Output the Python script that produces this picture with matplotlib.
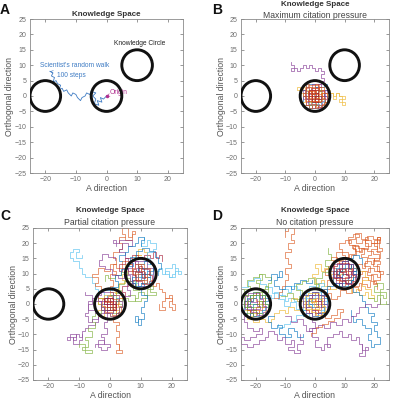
import numpy as np
import matplotlib.pyplot as plt
from matplotlib.patches import Circle

plt.rcParams['font.family'] = ['Liberation Sans', 'DejaVu Sans']

# MATLAB default colour order
BLUE, ORANGE, YELLOW, PURPLE = '#0072BD', '#D95319', '#EDB120', '#7E2F8E'
GREEN, CYAN, DARKRED = '#77AC30', '#4DBEEE', '#A2142F'
GRAY = '#6e6e6e'

# knowledge circles
circle_x = [-20, 0, 10]
circle_y = [0, 0, 10]
circle_r = 5

x_ticks = [-20, -10, 0, 10, 20]
y_ticks = [-25, -20, -15, -10, -5, 0, 5, 10, 15, 20, 25]

# ---- panel A: one scientist's walk
a_walk = [(0, 0), (-1, -1), (-2, -0.5), (-1.5, -2), (-3, -1.5), (-2.5, -3), (-4, -2.5),
          (-3.5, -1), (-4.5, 0), (-3.5, 1), (-5, 1.5), (-5.5, 0.5), (-6.5, 1), (-7, 0),
          (-8, -0.5), (-8.5, -1.5), (-9.5, -0.5), (-10, 0.5), (-11, 1), (-11.5, 0),
          (-12.5, 1), (-13, 2), (-14, 1.5), (-14.5, 2.5), (-15.5, 2), (-15, 3.5), (-16, 4),
          (-16.5, 5), (-17.5, 4.5), (-17, 6), (-18, 6.5), (-17.5, 7.5), (-18.5, 8)]

# ---- panel B: maximum citation pressure
b_walk_purple = [(1, 1), (0, 3), (1, 4), (2, 5), (3, 6), (2, 7), (3, 8), (2, 9), (1, 8), (0, 9),
                 (-1, 10), (-2, 9), (-3, 10), (-4, 9), (-5, 8), (-6, 9), (-7, 8), (-8, 9),
                 (-7, 10), (-8, 11)]
b_walk_yellow = [(2, 0), (3, 1), (4, 0), (5, 1), (6, 0), (7, 1), (8, 0), (9, -1), (8, -2),
                 (9, -3), (10, -2), (9, -1), (10, 0), (8, 1), (7, -1), (6, 1), (5, 2)]
b_walk_orange = [(-2, 2), (-3, 3), (-4, 2), (-5, 3), (-6, 2), (-5, 1), (-4, 0)]
b_blob_orange = [(0, 0), (1, 1), (0, 2), (-1, 1), (-2, 2), (-1, 0), (-2, -1), (-1, -2), (0, -1),
                 (1, -2), (2, -1), (3, 0), (2, 1), (3, 2), (2, 3), (1, 2), (0, 3), (-1, 3),
                 (-2, 4), (-3, 3), (-3, 1), (-4, 0), (-3, -1), (-3, -3), (-2, -4), (-1, -3),
                 (0, -4), (1, -3), (2, -3), (3, -2), (4, -1), (4, 1), (3, 3), (1, 4), (0, 2),
                 (-1, 0), (0, -2), (1, 0), (0, 0)]
b_blob_orange2 = [(0.5, 0.5), (-1.5, 1.5), (-2.5, -0.5), (-1.5, -2.5), (0.5, -3.5), (2.5, -2.5),
                  (3.5, -0.5), (2.5, 1.5), (1.5, 3.5), (-0.5, 3.5), (-2.5, 2.5), (-3.5, 0.5),
                  (-3.5, -1.5), (-0.5, -1.5), (1.5, -0.5), (0.5, 1.5), (-1.5, 0.5), (-0.5, -0.5)]
b_blob_purple = [(0, 0), (-1, -1), (-2, 0), (-3, -1), (-2, -2), (-3, -3), (-1, -4), (0, -3),
                 (1, -4), (2, -2), (1, -1), (2, 0), (3, -1), (4, 0), (3, 1), (4, 2), (2, 2),
                 (1, 3), (2, 4), (0, 4), (-1, 2), (-2, 3), (-3, 2), (-4, 1), (-3, 0), (-4, -1),
                 (-2, 1), (-1, 2), (0, 1), (1, 0), (0, -1)]
b_blob_purple2 = [(-0.5, 0.5), (-2.5, 1.5), (-3.5, -0.5), (-2.5, -2.5), (-0.5, -2.5), (1.5, -3.5),
                  (2.5, -1.5), (3.5, 1.5), (1.5, 2.5), (-0.5, 2.5), (-1.5, 0.5), (0.5, -0.5)]
b_blob_blue = [(0, 0), (-1, 1), (-3, 2), (-4, 2), (-3, 4), (-1, 4), (0, 3), (2, 3), (3, 4),
               (4, 2), (3, 0), (4, -2), (3, -3), (1, -4), (-1, -4), (-2, -3), (-4, -2), (-4, 0),
               (-2, -1), (-1, -2), (1, -2), (2, -1), (1, 1), (0, 0)]
b_blob_yellow = [(0, 0), (-2, -1), (-3, -2), (-4, -3), (-2, -3), (-1, -4), (0, -3), (2, -4),
                 (3, -3), (4, -2), (3, -1), (1, -1), (2, 1), (4, 1), (3, 2), (1, 2), (0, 1),
                 (-1, 3), (-3, 3), (-2, 1), (-3, 0), (-1, 0)]
b_blob_red = [(0, 0), (1, 0), (1, 1), (0, 1), (-1, 1), (-1, 0), (-1, -1), (0, -1), (1, -1),
              (2, -1), (2, 0), (1, 2), (0, 2), (-1, 2), (-2, 1), (-2, 0), (-1, -2), (0, -2),
              (1, -2), (0, -1), (0, 0)]
b_blob_red2 = [(0.5, -0.5), (1.5, 0.5), (0.5, 1.5), (-0.5, 0.5), (-1.5, -0.5), (-0.5, -1.5),
               (1.5, -1.5), (2.5, 0.5), (1.5, 2.5), (-1.5, 1.5), (-2.5, -1.5), (0.5, -2.5)]
b_blob_green = [(0, 0), (1, -1), (2, -2), (1, -3), (0, -2), (-1, -3), (-2, -2), (-1, -1),
                (0, 0), (1, 2), (2, 1)]
b_blob_cyan = [(0, 0), (2, -1), (3, -2), (2, -3), (1, -2), (0, -3), (-1, -2), (0, -1)]

# ---- panel C: partial citation pressure
c_blob0_red = [(0, 0), (1, 1), (0, 2), (-1, 1), (-2, 0), (-1, -1), (0, -2), (1, -1), (2, 0),
               (1, 2), (-1, 2), (-2, 1), (-1, 0), (0, -1), (1, 0), (0, 1), (-1, -2), (1, -2),
               (2, 1), (0, 0)]
c_blob0_purple = [(0, 0), (-2, 1), (-3, -1), (-2, -3), (0, -4), (2, -3), (3, -1), (4, 1),
                  (3, 3), (1, 4), (-1, 4), (-3, 3), (-4, 1), (-3, -2), (-1, -3), (1, -2),
                  (2, 0), (1, 2), (-1, 2), (-2, 0), (-1, -1)]
c_blob0_orange = [(0, 0), (1, -1), (3, -2), (2, -4), (0, -3), (-2, -4), (-4, -2), (-3, 0),
                  (-4, 2), (-2, 3), (0, 4), (2, 3), (4, 2), (3, 0), (2, -2), (0, -1), (-2, 1),
                  (0, 2), (1, 0)]
c_blob0_yellow = [(0.5, 0.5), (-1.5, 1.5), (-2.5, -0.5), (-1.5, -2.5), (0.5, -3.5), (2.5, -2.5),
                  (3.5, -0.5), (2.5, 1.5), (0.5, 2.5), (-0.5, 0.5), (0.5, -1.5), (1.5, 0.5)]
c_blob0_green = [(0, 0), (-1, 2), (-3, 2), (-4, 0), (-3, -2), (-1, -1), (1, -3), (3, -3),
                 (3, -1), (4, 0), (2, 1), (2, 3), (0, 3)]
c_blob0_blue = [(0, 0), (2, 2), (3, 1), (2, -1), (0, -2), (-2, -2), (-3, 0), (-2, 2), (-1, 3),
                (1, 2), (0, 1)]
c_blob1_blue = [(10, 10), (12, 11), (13, 9), (12, 7), (10, 6), (8, 7), (7, 9), (8, 11), (9, 13),
                (11, 14), (13, 13), (14, 11), (13, 10), (11, 9), (9, 10), (10, 12), (12, 12),
                (11, 8), (9, 8), (10, 10)]
c_blob1_red = [(10, 10), (9, 11), (8, 10), (9, 8), (11, 7), (12, 9), (11, 11), (10, 13), (8, 12),
               (7, 10), (8, 8), (10, 8), (12, 10), (13, 12), (11, 13), (9, 12), (10, 11)]
c_blob1_red2 = [(10.5, 10.5), (8.5, 11.5), (7.5, 9.5), (8.5, 7.5), (10.5, 6.5), (12.5, 7.5),
                (13.5, 9.5), (12.5, 11.5), (10.5, 12.5), (9.5, 10.5), (10.5, 8.5), (11.5, 10.5)]
c_blob1_purple = [(10, 10), (11, 12), (9, 14), (7, 12), (6, 10), (7, 8), (9, 6), (11, 6), (13, 7),
                  (14, 9), (14, 12), (12, 14), (10, 14), (8, 13), (9, 11), (11, 10)]
c_blob1_cyan = [(10, 10), (12, 9), (13, 7), (11, 6), (9, 7), (8, 9), (9, 12), (11, 12), (12, 11)]
c_walk_orange_up = [(0, 2), (1, 4), (0, 6), (1, 8), (0, 10), (2, 11), (1, 13), (2, 15), (1, 17),
                    (3, 18), (4, 20), (3, 22), (5, 23), (4, 25), (6, 22), (7, 24), (8, 23),
                    (7, 21), (5, 22)]
c_walk_red_e = [(11, 9), (13, 8), (14, 6), (15, 7), (16, 5), (17, 4), (18, 2), (19, 3), (20, 1),
                (19, -1), (20, -2), (21, 0), (20, 2), (18, 1), (17, -1), (18, -2), (16, 0)]
c_walk_cyan_e = [(12, 10), (14, 12), (15, 11), (16, 12), (17, 10), (18, 11), (19, 9), (20, 10),
                 (21, 11), (22, 10), (23, 11), (22, 12), (21, 9), (19, 10), (18, 12), (20, 13),
                 (21, 12)]
c_walk_purple_sw = [(-1, -1), (-2, -3), (-3, -4), (-4, -6), (-5, -7), (-7, -8), (-8, -9),
                    (-9, -11), (-10, -10), (-11, -12), (-12, -11), (-13, -12), (-14, -11),
                    (-13, -10), (-11, -11), (-12, -13), (-10, -12), (-9, -10)]
c_walk_purple_s = [(0, -2), (-1, -4), (-1, -6), (-2, -8), (-1, -10), (-3, -11), (-2, -13),
                   (-4, -14), (-3, -15), (-1, -14), (0, -13), (-2, -12), (-4, -13), (-5, -14)]
c_walk_green_sw = [(-2, -1), (-3, -3), (-5, -4), (-6, -6), (-5, -8), (-7, -9), (-6, -11),
                   (-8, -12), (-7, -14), (-9, -15), (-8, -16), (-6, -15), (-8, -13), (-10, -14)]
c_walk_red_s = [(1, -2), (2, -4), (1, -6), (3, -7), (2, -9), (3, -11), (2, -13), (3, -15),
                (2, -16), (4, -15), (3, -13)]
c_walk_cyan_nw = [(-1, 2), (-2, 4), (-4, 5), (-5, 7), (-6, 9), (-8, 10), (-9, 12), (-10, 14),
                  (-12, 15), (-13, 17), (-12, 18), (-10, 17), (-11, 15), (-9, 16)]
c_walk_purple_n = [(9, 12), (8, 14), (6, 15), (5, 17), (3, 18), (4, 20), (6, 19), (7, 21),
                   (5, 21), (3, 20), (1, 21), (2, 19)]
c_walk_green_e = [(2, 1), (4, 2), (6, 1), (8, 2), (9, 4), (11, 3), (12, 5), (14, 6), (13, 4),
                  (15, 3), (12, 2), (10, 1), (8, 3), (6, 3)]
c_walk_blue_se = [(10, 7), (11, 5), (10, 3), (12, 1), (11, -1), (10, -3), (11, -5), (9, -6),
                  (8, -4), (9, -7), (10, -5)]
c_walk_yellow_mid = [(0, 3), (2, 5), (3, 7), (5, 8), (4, 10), (6, 11), (5, 13), (7, 14), (8, 16),
                     (10, 16), (9, 18), (11, 17), (12, 15)]
c_walk_orange_mid = [(-2, 2), (-4, 4), (-3, 6), (-5, 7), (-4, 9), (-6, 10), (-4, 12), (-2, 11),
                     (0, 13), (2, 12), (4, 14), (6, 13), (7, 11)]
c_walk_red_mid = [(3, 2), (5, 4), (4, 6), (6, 7), (8, 6), (7, 8), (9, 9), (8, 11), (6, 12),
                  (4, 11), (3, 13), (5, 15), (7, 16), (9, 15), (11, 16), (13, 15), (14, 17),
                  (15, 15), (16, 16), (17, 14)]
c_walk_purple_w = [(-3, 1), (-5, 2), (-6, 0), (-7, -2), (-5, -3), (-4, -5), (-6, -6), (-7, -4),
                   (-8, -3), (-7, 1), (-6, 3), (-8, 4)]
c_walk_cyan_top = [(12, 13), (13, 15), (12, 17), (14, 18), (15, 20), (13, 21), (12, 19),
                   (10, 20), (11, 22)]
c_walk_blue_top = [(4, 14), (3, 16), (5, 17), (6, 19), (8, 20), (9, 22), (11, 21), (10, 19)]
c_walk_green_mid = [(1.5, 3.5), (3.5, 4.5), (2.5, 6.5), (4.5, 7.5), (6.5, 6.5), (7.5, 4.5),
                    (9.5, 5.5), (8.5, 7.5), (6.5, 8.5), (5.5, 10.5), (3.5, 9.5), (1.5, 8.5),
                    (-0.5, 9.5), (-1.5, 7.5)]
c_walk_blue_mid = [(-1.5, 4.5), (0.5, 5.5), (2.5, 7.5), (1.5, 9.5), (3.5, 11.5), (5.5, 12.5),
                   (7.5, 13.5), (6.5, 15.5), (8.5, 17.5), (10.5, 18.5), (12.5, 17.5),
                   (14.5, 15.5), (15.5, 13.5), (16.5, 11.5), (15.5, 9.5)]
c_walk_purple_mid = [(4.5, 2.5), (6.5, 4.5), (5.5, 6.5), (7.5, 7.5), (6.5, 9.5), (4.5, 8.5),
                     (2.5, 9.5), (0.5, 11.5), (-1.5, 12.5), (-3.5, 14.5), (-2.5, 16.5),
                     (-0.5, 15.5), (1.5, 14.5)]

# ---- panel D: no citation pressure
d_blob0_orange = [(0, 0), (1, 1), (0, 2), (-1, 1), (-2, 2), (-1, 3), (0, 4), (1, 3), (2, 2),
                  (3, 1), (2, 0), (3, -1), (2, -2), (1, -3), (0, -2), (-1, -3), (-2, -2),
                  (-3, -1), (-2, 0), (-3, 1), (-4, 0), (-3, -2), (-2, -3), (-1, -4), (0, -3),
                  (1, -2), (0, -1), (1, 0), (2, 1), (1, 2), (0, 1), (-1, 0), (0, 0)]
d_blob0_blue = [(0, 0), (-1, -1), (-2, -1), (-3, 0), (-2, 1), (-1, 2), (0, 3), (1, 2), (2, 3),
                (3, 2), (4, 1), (3, 0), (4, -1), (3, -2), (2, -3), (1, -4), (0, -4), (-1, -3),
                (-2, -4), (-3, -3), (-4, -2), (-4, 1), (-3, 2), (-2, 3), (-1, 4), (1, 4)]
d_blob0_purple = [(0, 0), (1, -1), (2, -1), (2, 1), (1, 3), (-1, 2), (-2, 1), (-3, -1), (-1, -2),
                  (0, -3), (2, -4), (3, -3), (4, 0), (3, 3), (1, 4), (-1, 3), (-3, 3), (-4, 1),
                  (-4, -1), (-3, -3), (-1, -4)]
d_blob0_yellow = [(0.5, 0.5), (-1.5, 1.5), (-2.5, -0.5), (-1.5, -2.5), (0.5, -3.5), (2.5, -2.5),
                  (3.5, -0.5), (2.5, 1.5), (1.5, 3.5), (-0.5, 3.5), (-2.5, 2.5), (-3.5, 0.5),
                  (-3.5, -1.5), (-0.5, -1.5), (1.5, -0.5), (0.5, 1.5), (-1.5, 0.5), (-0.5, -0.5)]
d_blob1_orange = [(10, 10), (11, 11), (10, 12), (9, 11), (8, 12), (9, 13), (10, 14), (11, 13),
                  (12, 12), (13, 11), (12, 10), (13, 9), (12, 8), (11, 7), (10, 8), (9, 7),
                  (8, 8), (7, 9), (8, 10), (7, 11), (6, 10), (7, 8), (8, 7), (9, 6), (10, 7),
                  (11, 8), (10, 9), (11, 10), (12, 11), (11, 12), (10, 11), (9, 10)]
d_blob1_blue = [(10, 10), (9, 9), (8, 9), (7, 10), (8, 11), (9, 12), (10, 13), (11, 12),
                (12, 13), (13, 12), (14, 11), (13, 10), (14, 9), (13, 8), (12, 7), (11, 6),
                (10, 6), (9, 7), (8, 6), (7, 7), (6, 8), (6, 11), (7, 12), (8, 13), (9, 14),
                (11, 14)]
d_blob1_purple = [(10, 10), (11, 9), (12, 9), (12, 11), (11, 13), (9, 12), (8, 11), (7, 9),
                  (9, 8), (10, 7), (12, 6), (13, 7), (14, 10), (13, 13), (11, 14), (9, 13),
                  (7, 13), (6, 11), (6, 9), (7, 7), (9, 6)]
d_blob1_red = [(10.5, 10.5), (8.5, 11.5), (7.5, 9.5), (8.5, 7.5), (10.5, 6.5), (12.5, 7.5),
               (13.5, 9.5), (12.5, 11.5), (11.5, 13.5), (9.5, 13.5), (7.5, 12.5), (6.5, 10.5),
               (6.5, 8.5), (9.5, 8.5), (11.5, 9.5), (10.5, 11.5), (8.5, 10.5), (9.5, 9.5)]
d_blob2_orange = [(-20, 0), (-19, 1), (-20, 2), (-21, 1), (-22, 2), (-21, 3), (-20, 4), (-19, 3),
                  (-18, 2), (-17, 1), (-18, 0), (-17, -1), (-18, -2), (-19, -3), (-20, -2),
                  (-21, -3), (-22, -2), (-23, -1), (-22, 0), (-23, 1), (-24, 0), (-23, -2),
                  (-22, -3), (-21, -4), (-20, -3), (-19, -2), (-20, -1), (-19, 0)]
d_blob2_blue = [(-20, 0), (-21, -1), (-22, -1), (-23, 0), (-22, 1), (-21, 2), (-20, 3), (-19, 2),
                (-18, 3), (-17, 2), (-16, 1), (-17, 0), (-16, -1), (-17, -2), (-18, -3),
                (-19, -4), (-20, -4), (-21, -3), (-22, -4), (-23, -3), (-24, -2), (-24, 1),
                (-23, 2), (-22, 3), (-21, 4), (-19, 4)]
d_blob2_green = [(-20, 0), (-19, -1), (-18, -1), (-18, 1), (-19, 3), (-21, 2), (-22, 1),
                 (-23, -1), (-21, -2), (-20, -3), (-18, -4), (-17, -3), (-16, 0), (-17, 3),
                 (-19, 4), (-21, 3), (-23, 3), (-24, 1), (-24, -1), (-23, -3), (-21, -4)]
d_blob2_purple = [(-19.5, 0.5), (-21.5, 1.5), (-22.5, -0.5), (-21.5, -2.5), (-19.5, -3.5),
                  (-17.5, -2.5), (-16.5, -0.5), (-17.5, 1.5), (-18.5, 3.5), (-20.5, 3.5),
                  (-22.5, 2.5), (-23.5, 0.5), (-23.5, -1.5), (-20.5, -1.5), (-18.5, -0.5),
                  (-19.5, 1.5)]
d_walk_red_ne = [(10, 10), (11, 12), (13, 11), (14, 13), (16, 12), (17, 14), (19, 13), (20, 15),
                 (18, 16), (19, 18), (21, 19), (20, 21), (22, 22), (21, 20), (19, 21), (17, 20),
                 (18, 18), (16, 17), (15, 19), (13, 18), (14, 16), (12, 15), (11, 17), (9, 16),
                 (10, 14), (8, 13), (9, 11), (7, 10), (8, 8), (10, 7), (12, 8), (13, 6), (15, 7),
                 (16, 9), (18, 8), (19, 10), (21, 9), (22, 11), (20, 12), (18, 11), (16, 10),
                 (14, 9)]
d_walk_red2 = [(2.5, 2.5), (4.5, 3.5), (5.5, 1.5), (7.5, 2.5), (8.5, 4.5), (10.5, 3.5),
               (12.5, 5.5), (14.5, 4.5), (15.5, 6.5), (17.5, 5.5), (18.5, 7.5), (20.5, 6.5),
               (19.5, 9.5), (17.5, 10.5), (18.5, 12.5), (16.5, 13.5), (17.5, 15.5), (15.5, 16.5),
               (16.5, 18.5), (14.5, 19.5), (12.5, 18.5), (13.5, 16.5), (11.5, 15.5), (9.5, 14.5),
               (7.5, 15.5), (5.5, 14.5), (6.5, 12.5), (4.5, 11.5), (3.5, 9.5), (5.5, 8.5),
               (7.5, 9.5)]
d_walk_orange_ne = [(0, 1), (2, 3), (3, 5), (5, 6), (4, 8), (6, 9), (5, 11), (7, 12), (6, 14),
                    (8, 15), (7, 17), (9, 18), (8, 20), (10, 21), (12, 20), (11, 22), (13, 23),
                    (15, 22), (14, 20), (16, 21), (18, 22), (17, 19), (19, 20), (21, 22),
                    (22, 20), (21, 17), (22, 15), (20, 14), (22, 13), (21, 11), (23, 10),
                    (22, 8), (20, 7), (21, 5)]
d_walk_orange3 = [(20.5, 17.5), (22.5, 18.5), (21.5, 21.5), (19.5, 22.5), (17.5, 21.5),
                  (15.5, 23.5), (13.5, 21.5), (11.5, 19.5), (13.5, 17.5), (15.5, 18.5),
                  (17.5, 17.5), (19.5, 16.5), (21.5, 14.5), (19.5, 12.5), (21.5, 10.5)]
d_walk_orange_mid = [(10, 10), (8, 11), (6, 10), (5, 12), (3, 11), (2, 13), (0, 12), (1, 10),
                     (-1, 9), (0, 7), (2, 8), (3, 6), (5, 5), (7, 6), (9, 5), (11, 6), (12, 4),
                     (14, 5), (15, 3), (17, 4), (18, 2), (20, 3), (19, 5), (17, 6), (16, 8),
                     (18, 9), (17, 11), (15, 12), (13, 13), (12, 11)]
d_walk_blue_mid = [(0, 0), (-2, 1), (-3, 3), (-1, 4), (1, 3), (2, 5), (4, 4), (3, 2), (4, 0),
                   (2, -1), (3, -3), (1, -4), (-1, -3), (-3, -4), (-4, -2), (-3, 0), (-1, -1),
                   (1, 1), (2, 3), (4, 6), (6, 7), (8, 6), (9, 8), (11, 9), (12, 11), (14, 10),
                   (13, 8), (11, 7), (9, 9), (8, 11), (10, 12), (12, 13), (11, 15), (13, 16),
                   (15, 15), (16, 13)]
d_walk_cyan_w = [(-20, 0), (-18, 1), (-17, 3), (-15, 2), (-14, 4), (-12, 3), (-11, 5), (-9, 4),
                 (-8, 6), (-6, 5), (-5, 3), (-3, 4), (-2, 6), (0, 5), (1, 7), (3, 6), (2, 4),
                 (0, 3), (-1, 1), (-3, 2), (-5, 1), (-7, 2), (-9, 1), (-10, 3), (-12, 2)]
d_walk_cyan_left = [(-24.5, 5.5), (-22.5, 7.5), (-20.5, 8.5), (-18.5, 6.5), (-16.5, 5.5),
                    (-14.5, 3.5), (-12.5, 1.5), (-10.5, -0.5), (-8.5, 0.5), (-6.5, -1.5),
                    (-4.5, -3.5), (-6.5, -5.5), (-8.5, -6.5), (-10.5, -7.5), (-12.5, -6.5)]
d_walk_green_w = [(-20, 0), (-22, 1), (-23, 3), (-24, 5), (-22, 6), (-23, 8), (-21, 9),
                  (-19, 10), (-18, 8), (-20, 7), (-19, 5), (-17, 6), (-16, 4), (-18, 3),
                  (-17, 1), (-19, -1), (-21, -2), (-23, -1), (-24, 1), (-22, 3), (-20, 4),
                  (-18, 5), (-16, 7), (-15, 9), (-17, 10), (-19, 9)]
d_walk_green_mid = [(-11.5, 2.5), (-9.5, 3.5), (-7.5, 1.5), (-5.5, 2.5), (-4.5, 4.5),
                    (-6.5, 6.5), (-4.5, 7.5), (-2.5, 8.5), (-0.5, 6.5), (1.5, 5.5), (0.5, 8.5),
                    (2.5, 10.5), (4.5, 12.5), (3.5, 14.5), (5.5, 16.5), (4.5, 18.5)]
d_walk_yellow_w = [(-20, 0), (-18, -1), (-16, -2), (-17, -4), (-19, -3), (-21, -4), (-22, -2),
                   (-24, -3), (-23, -5), (-21, -6), (-19, -5), (-17, -6), (-15, -5), (-14, -3),
                   (-12, -2), (-10, -3), (-9, -1), (-7, -2), (-5, -1), (-4, 1), (-6, 2), (-8, 1)]
d_walk_purple_sw = [(-20, -2), (-22, -4), (-24, -6), (-23, -8), (-21, -9), (-19, -8), (-18, -10),
                    (-20, -11), (-22, -12), (-24, -11), (-25, -13), (-23, -14), (-21, -13),
                    (-19, -12), (-17, -11), (-16, -9), (-14, -10), (-13, -12), (-11, -11),
                    (-10, -13), (-8, -12), (-7, -14), (-9, -15), (-7, -16), (-5, -15), (-6, -13),
                    (-4, -12), (-5, -10)]
d_walk_red_up = [(-14, 2), (-12, 4), (-11, 6), (-10, 8), (-9, 10), (-10, 12), (-8, 13), (-9, 15),
                 (-10, 17), (-8, 18), (-9, 20), (-7, 21), (-8, 23), (-7, 25), (-9, 24), (-10, 22)]
d_walk_purple_s = [(0, -2), (1, -4), (-1, -6), (0, -8), (-2, -9), (-1, -11), (1, -12), (0, -14),
                   (2, -15), (3, -13), (5, -14), (4, -11), (6, -10), (8, -9), (9, -11), (11, -10),
                   (12, -12), (14, -11), (15, -13), (16, -15), (18, -14), (17, -17), (15, -16),
                   (16, -13)]
d_walk_blue_se = [(10, 8), (12, 6), (13, 4), (15, 3), (16, 1), (17, -1), (18, -3), (20, -4),
                  (19, -6), (21, -7), (20, -9), (21, -11), (22, -13), (20, -14), (19, -12),
                  (18, -10), (19, -8), (17, -7), (16, -5), (14, -6), (13, -4), (12, -2)]
d_walk_purple_mid = [(-10, -4), (-8, -6), (-6, -5), (-4, -7), (-3, -9), (-1, -8), (1, -7),
                     (3, -8), (5, -6), (7, -7), (9, -5), (11, -6), (12, -4), (14, -3), (15, -1),
                     (17, 0), (19, -1), (21, 0), (22, 2)]
d_walk_orange_s = [(1.5, -2.5), (3.5, -4.5), (5.5, -3.5), (7.5, -1.5), (9.5, -2.5), (8.5, -4.5),
                   (6.5, -5.5), (4.5, -6.5), (2.5, -7.5), (0.5, -9.5), (-1.5, -10.5)]
d_walk_blue_nw = [(-16, 8), (-15, 10), (-13, 9), (-12, 11), (-11, 9), (-13, 8), (-14, 6),
                  (-12, 5), (-10, 6), (-8, 5), (-7, 7), (-5, 8), (-3, 7), (-1, 8)]
d_walk_green_e = [(18, 2), (20, 1), (21, 3), (23, 2), (24, 4), (22, 5), (23, 7), (21, 6),
                  (20, 4), (22, 0), (24, 1)]
d_walk_blue_sw = [(-14, -4), (-16, -6), (-15, -8), (-13, -7), (-11, -8), (-12, -10), (-10, -11),
                  (-8, -10), (-9, -8), (-7, -9), (-6, -11), (-4, -10)]

panel_b = [(b_walk_purple, PURPLE), (b_walk_yellow, YELLOW), (b_walk_orange, YELLOW),
           (b_blob_blue, BLUE), (b_blob_yellow, YELLOW), (b_blob_purple, PURPLE),
           (b_blob_purple2, PURPLE), (b_blob_green, GREEN), (b_blob_cyan, CYAN),
           (b_blob_orange, ORANGE), (b_blob_orange2, ORANGE), (b_blob_red, DARKRED),
           (b_blob_red2, ORANGE)]
panel_c = [(c_walk_orange_up, ORANGE), (c_walk_red_e, ORANGE), (c_walk_cyan_e, CYAN),
           (c_walk_purple_sw, PURPLE), (c_walk_purple_s, PURPLE), (c_walk_green_sw, GREEN),
           (c_walk_red_s, ORANGE), (c_walk_cyan_nw, CYAN), (c_walk_purple_n, PURPLE),
           (c_walk_green_e, GREEN), (c_walk_blue_se, BLUE), (c_walk_yellow_mid, YELLOW),
           (c_walk_orange_mid, ORANGE), (c_walk_red_mid, DARKRED), (c_walk_purple_w, PURPLE),
           (c_walk_cyan_top, CYAN), (c_walk_blue_top, BLUE), (c_walk_green_mid, GREEN),
           (c_walk_blue_mid, BLUE), (c_walk_purple_mid, PURPLE),
           (c_blob0_blue, BLUE), (c_blob0_green, GREEN), (c_blob0_orange, YELLOW),
           (c_blob0_yellow, ORANGE), (c_blob0_purple, PURPLE), (c_blob0_red, DARKRED),
           (c_blob1_cyan, CYAN), (c_blob1_purple, PURPLE), (c_blob1_blue, BLUE),
           (c_blob1_red, ORANGE), (c_blob1_red2, DARKRED)]
panel_d = [(d_walk_red_ne, ORANGE), (d_walk_red2, ORANGE), (d_walk_orange_ne, ORANGE),
           (d_walk_orange3, ORANGE), (d_walk_orange_mid, YELLOW),
           (d_walk_blue_mid, BLUE), (d_walk_cyan_w, CYAN), (d_walk_cyan_left, CYAN),
           (d_walk_green_w, GREEN), (d_walk_green_mid, GREEN), (d_walk_yellow_w, YELLOW),
           (d_walk_purple_sw, PURPLE), (d_walk_red_up, ORANGE), (d_walk_purple_s, PURPLE),
           (d_walk_blue_se, BLUE), (d_walk_purple_mid, PURPLE), (d_walk_orange_s, ORANGE),
           (d_walk_blue_nw, BLUE), (d_walk_green_e, GREEN), (d_walk_blue_sw, BLUE),
           (d_blob0_orange, ORANGE), (d_blob0_blue, CYAN), (d_blob0_purple, PURPLE),
           (d_blob0_yellow, YELLOW),
           (d_blob1_orange, ORANGE), (d_blob1_blue, BLUE), (d_blob1_purple, PURPLE),
           (d_blob1_red, DARKRED),
           (d_blob2_orange, ORANGE), (d_blob2_blue, BLUE), (d_blob2_green, GREEN),
           (d_blob2_purple, PURPLE)]


def setup(ax):
    ax.set_xlim(-25, 25)
    ax.set_ylim(-25, 25)
    ax.set_xticks(x_ticks)
    ax.set_yticks(y_ticks)
    ax.tick_params(direction='in', length=2, width=0.5, colors=GRAY, labelsize=5,
                   pad=2.5, top=True, right=True)
    for s in ax.spines.values():
        s.set_color('#8a8a8a')
        s.set_linewidth(0.6)
    for cx, cy in zip(circle_x, circle_y):
        ax.add_patch(Circle((cx, cy), circle_r, fill=False, ec='#111111', lw=2.1, zorder=5))


def draw_walks(ax, walks):
    for pts, col in walks:
        p = np.array(pts, dtype=float)
        ax.plot(p[:, 0], p[:, 1], color=col, lw=0.55, alpha=0.75, drawstyle='steps-post')


fig = plt.figure(figsize=(3.96, 4.0), dpi=100)
axA = fig.add_axes([30 / 396, 1 - 173 / 400, 153 / 396, 154 / 400])
axB = fig.add_axes([241 / 396, 1 - 173 / 400, 148 / 396, 154 / 400])
axC = fig.add_axes([33 / 396, 1 - 380 / 400, 154 / 396, 152 / 400])
axD = fig.add_axes([241 / 396, 1 - 380 / 400, 148 / 396, 152 / 400])

for ax in (axA, axB, axC, axD):
    setup(ax)

# panel A
pa = np.array(a_walk)
axA.plot(pa[:, 0], pa[:, 1], color='#3f7cc4', lw=0.6)
axA.plot([0], [0], 'o', color='#b0308f', ms=1.5)
axA.text(-21.7, 9.8, "Scientist's random walk", color='#3f7cc4', fontsize=4.8, va='center')
axA.annotate('100 steps', xy=(-18.5, 8), xytext=(-16.3, 6.8), color='#3f7cc4', fontsize=4.8,
             va='center', arrowprops=dict(arrowstyle='->', color='#3f7cc4', lw=0.4))
axA.annotate('Origin', xy=(0, 0), xytext=(1, 1.2), color='#b0308f', fontsize=4.8,
             va='center', arrowprops=dict(arrowstyle='->', color='#b0308f', lw=0.4))
axA.text(10.8, 17, 'Knowledge Circle', color='#222222', fontsize=4.8, ha='center', va='center')

draw_walks(axB, panel_b)
draw_walks(axC, panel_c)
draw_walks(axD, panel_d)

# titles and labels
fig.text(106.5 / 396, 1 - 14 / 400, 'Knowledge Space', ha='center', va='center',
         fontsize=5.8, fontweight='bold', color='#333333')
for cx, y1, y2, sub in [(315, 4.5, 15.5, 'Maximum citation pressure'),
                        (110, 211, 222, 'Partial citation pressure'),
                        (315, 211, 222.5, 'No citation pressure')]:
    fig.text(cx / 396, 1 - y1 / 400, 'Knowledge Space', ha='center', va='center',
             fontsize=5.8, fontweight='bold', color='#333333')
    fig.text(cx / 396, 1 - y2 / 400, sub, ha='center', va='center', fontsize=6.2,
             color='#444444')

for cx, cy in [(106.5, 189), (315, 189), (110, 395), (315, 395)]:
    fig.text(cx / 396, 1 - cy / 400, 'A direction', ha='center', va='center',
             fontsize=6.3, color='#555555')
for lx, cy in [(10, 96), (221, 96), (13, 304), (221, 304)]:
    fig.text(lx / 396, 1 - cy / 400, 'Orthogonal direction', ha='center', va='center',
             rotation=90, fontsize=6.3, color='#555555')

for lab, x, y in [('A', 5, 10), ('B', 217, 10), ('C', 5, 216), ('D', 217, 216)]:
    fig.text(x / 396, 1 - y / 400, lab, ha='center', va='center', fontsize=10,
             fontweight='bold', color='#111111')

fig.savefig('out.png', dpi=100)
